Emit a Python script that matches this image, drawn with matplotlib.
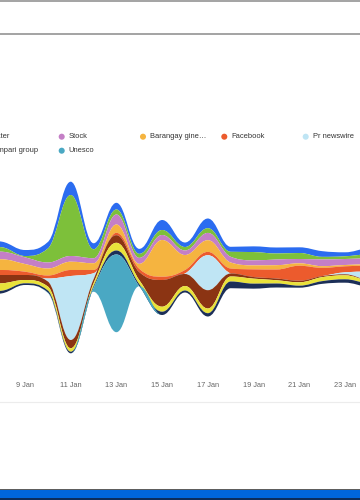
import numpy as np
import matplotlib
matplotlib.use("Agg")
import matplotlib.pyplot as plt
from matplotlib.path import Path
from matplotlib.patches import PathPatch, Rectangle
from matplotlib.lines import Line2D

# ---------------- data (streamgraph, values per day of January) ----------------
days = [7, 8, 9, 10, 11, 12, 13, 14, 15, 16, 17, 18, 19, 20, 21, 22, 23, 24, 25]

series_blue     = [6, 5.6, 6, 6.5, 13.3, 6, 6.7, 5, 10, 4.5, 9.7, 5, 5.7, 6, 5.7, 5.7, 4, 6, 6]
twitter         = [5, 4.4, 1.3, 14, 61, 9, 5, 4, 5, 3.5, 4.7, 5, 8.3, 6, 6, 2.6, 2.7, 4, 4]
stock           = [8, 7.6, 6.7, 6, 5.7, 5, 10, 6, 5, 4.5, 7.3, 5.7, 5, 5.7, 4.3, 6.7, 6, 6, 6]
barangay        = [11, 10.7, 7.7, 7, 8.3, 6.7, 8.3, 5, 36.7, 15, 11.7, 6, 4, 4.3, 2.4, 1.7, 1.3, 1.4, 1.5]
facebook        = [5, 5, 3.3, 3, 6, 3.3, 2.4, 3.3, 3.3, 3.5, 3.3, 5, 7.7, 9, 15, 8.3, 6, 6, 6]
pr_newswire     = [0, 0, 0, 3, 64, 6, 0, 0, 0, 0.5, 35, 0, 0, 0, 0, 0, 2, 8.3, 10]
series_brown    = [9, 8.3, 5, 5, 8.3, 4, 7.6, 8, 26.7, 12, 18.3, 3, 1.6, 1.7, 1.6, 1, 1, 0.5, 0.5]
series_yellow   = [8, 7.4, 3.3, 4, 3.4, 3, 7.7, 4, 5, 4.5, 4.7, 5, 5, 3.3, 3.4, 4, 4, 3, 3]
campari_group   = [3, 2.6, 1.7, 2, 1.6, 1.5, 4, 2, 3.3, 2, 3.3, 6.7, 5, 4, 2, 2.7, 3.4, 3.5, 3.5]
unesco          = [0, 0, 0, 0.5, 0, 4, 77.7, 0, 0, 0, 0, 0, 0, 0, 0, 0, 0, 0, 0]

tick_days = [9, 11, 13, 15, 17, 19, 21, 23]
tick_labels = [f"{d} Jan" for d in tick_days]

# legend entries that are visible in the crop (name, colour)
legend_row1 = [("Twitter", "#7dc03a"), ("Stock", "#c47fc6"), ("Barangay gine\u2026", "#f5b440"),
               ("Facebook", "#ec5b2d"), ("Pr newswire", "#bfe5f4")]
legend_row2 = [("Campari group", "#1c2f58"), ("Unesco", "#4aa8c3")]

# stacking order: top to bottom
stack = [
    (series_blue, "#2b6cf0"),
    (twitter, "#7dc03a"),
    (stock, "#c47fc6"),
    (barangay, "#f5b440"),
    (facebook, "#ec5b2d"),
    (pr_newswire, "#bfe5f4"),
    (series_brown, "#8b3413"),
    (series_yellow, "#e9e23a"),
    (campari_group, "#1c2f58"),
    (unesco, "#4aa8c3"),
]

# ---------------- helpers ----------------
def spline_controls(x, y, s=1.5):
    """Highcharts-style spline control points."""
    n = len(x)
    lc = np.column_stack([x, y]).astype(float)
    rc = lc.copy()
    d = s + 1.0
    for i in range(1, n - 1):
        lx, ly = x[i - 1], y[i - 1]
        px, py = x[i], y[i]
        nx, ny = x[i + 1], y[i + 1]
        lcx = (s * px + lx) / d
        lcy = (s * py + ly) / d
        rcx = (s * px + nx) / d
        rcy = (s * py + ny) / d
        corr = (rcy - lcy) * (rcx - px) / (rcx - lcx) + py - rcy
        lcy += corr
        rcy += corr
        if lcy > ly and lcy > py:
            lcy = max(ly, py); rcy = 2 * py - lcy
        elif lcy < ly and lcy < py:
            lcy = min(ly, py); rcy = 2 * py - lcy
        if rcy > ny and rcy > py:
            rcy = max(ny, py); lcy = 2 * py - rcy
        elif rcy < ny and rcy < py:
            rcy = min(ny, py); lcy = 2 * py - rcy
        lc[i] = (lcx, lcy)
        rc[i] = (rcx, rcy)
    return lc, rc


def band_path(x, upper, lower):
    x = np.asarray(x, float)
    lcu, rcu = spline_controls(x, upper)
    lcl, rcl = spline_controls(x, lower)
    n = len(x)
    verts = [(x[0], upper[0])]
    codes = [Path.MOVETO]
    for i in range(1, n):
        verts += [tuple(rcu[i - 1]), tuple(lcu[i]), (x[i], upper[i])]
        codes += [Path.CURVE4] * 3
    verts.append((x[-1], lower[-1]))
    codes.append(Path.LINETO)
    for i in range(n - 2, -1, -1):
        verts += [tuple(lcl[i + 1]), tuple(rcl[i]), (x[i], lower[i])]
        codes += [Path.CURVE4] * 3
    verts.append((x[0], upper[0]))
    codes.append(Path.CLOSEPOLY)
    return Path(verts, codes)


# ---------------- figure ----------------
W, H = 360, 500
fig = plt.figure(figsize=(W / 100, H / 100), dpi=100)
fig.patch.set_facecolor("white")

FONT = ["Liberation Sans", "DejaVu Sans"]

# plot area (pixel layout of the cropped chart)
px_per_day = 22.857
x0_px = 25.0  # pixel position of 9 Jan
ax_top_px, ax_bot_px = 165.0, 376.0
center_px = 267.5
ax = fig.add_axes([0, 1 - ax_bot_px / H, 1, (ax_bot_px - ax_top_px) / H])
ax.set_xlim(9 - x0_px / px_per_day, 9 + (W - x0_px) / px_per_day)
ax.set_ylim(center_px - ax_bot_px, center_px - ax_top_px)

vals = np.array([s for s, _ in stack], float)
total = vals.sum(axis=0)
top = total / 2.0
for (s, color) in stack:
    s = np.asarray(s, float)
    bottom = top - s
    ax.add_patch(PathPatch(band_path(days, top, bottom), facecolor=color,
                           edgecolor="none", lw=0))
    top = bottom

for sp in ax.spines.values():
    sp.set_visible(False)
ax.set_yticks([])
ax.set_xticks(tick_days)
ax.set_xticklabels(tick_labels, fontsize=5.3, color="#666666", family=FONT)
ax.tick_params(axis="x", length=0, pad=4)
ax.patch.set_alpha(0)

# ---------------- overlay: legend and frame decorations ----------------
ov = fig.add_axes([0, 0, 1, 1], zorder=5)
ov.set_xlim(0, W)
ov.set_ylim(H, 0)
ov.axis("off")
ov.patch.set_alpha(0)

col_x = [-19.3, 61.7, 143.0, 224.3, 305.7]
row_y = [136.7, 150.7]
for row, items in enumerate([legend_row1, legend_row2]):
    for c, (name, color) in enumerate(items):
        ov.scatter([col_x[c]], [row_y[row]], s=19, color=color, edgecolors="none",
                   clip_on=False)
        ov.text(col_x[c] + 7, row_y[row], name, fontsize=5.4, color="#333333",
                va="center", ha="left", family=FONT)

# window / container lines
ov.add_line(Line2D([0, W], [1.3, 1.3], color="#8a8a8a", lw=1.1))
ov.add_line(Line2D([0, W], [33.6, 33.6], color="#8a8a8a", lw=1.1))
ov.add_line(Line2D([0, W], [402.3, 402.3], color="#ececec", lw=0.8))
ov.add_patch(Rectangle((0, 488.6), W, 1.4, color="#5e5e5e", lw=0))
ov.add_patch(Rectangle((0, 490.0), W, 8.4, color="#0066dc", lw=0))
ov.add_patch(Rectangle((0, 498.4), W, 1.6, color="#0c2d5c", lw=0))

fig.savefig("out.png", dpi=100)
